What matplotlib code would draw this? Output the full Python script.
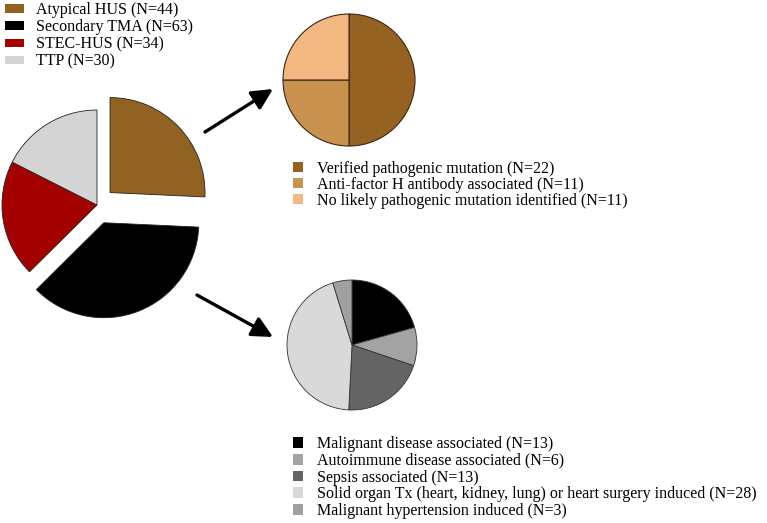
import matplotlib
matplotlib.use("Agg")
import matplotlib.pyplot as plt
from matplotlib.patches import Patch

plt.rcParams['font.family'] = ['Liberation Serif', 'DejaVu Serif']

# ---- data ----
main_labels = ["Atypical HUS (N=44)", "Secondary TMA (N=63)", "STEC-HUS (N=34)", "TTP (N=30)"]
main_values = [44, 63, 34, 30]
main_colors = ["#926222", "#000000", "#a50000", "#d4d4d4"]

ahus_labels = ["Verified pathogenic mutation (N=22)",
               "Anti-factor H antibody associated (N=11)",
               "No likely pathogenic mutation identified (N=11)"]
ahus_values = [22, 11, 11]
ahus_colors = ["#956221", "#c9924f", "#f3b882"]

tma_labels = ["Malignant disease associated (N=13)",
              "Autoimmune disease associated (N=6)",
              "Sepsis associated (N=13)",
              "Solid organ Tx (heart, kidney, lung) or heart surgery induced (N=28)",
              "Malignant hypertension induced (N=3)"]
tma_values = [13, 6, 13, 28, 3]
tma_colors = ["#000000", "#a3a3a3", "#646464", "#d9d9d9", "#a0a0a0"]

W, H = 767, 523
fig = plt.figure(figsize=(W / 100, H / 100), dpi=100)
ax = fig.add_axes([0, 0, 1, 1])

# main pie
ax.pie(main_values, colors=main_colors, startangle=90, counterclock=False,
       center=(97, H - 205), radius=95, explode=[18, 19, 0, 0],
       wedgeprops=dict(edgecolor="#222222", linewidth=0.6))
# aHUS pie
ax.pie(ahus_values, colors=ahus_colors, startangle=90, counterclock=False,
       center=(349, H - 80), radius=66,
       wedgeprops=dict(edgecolor="#3a2510", linewidth=0.8))
# secondary TMA pie
ax.pie(tma_values, colors=tma_colors, startangle=90, counterclock=False,
       center=(352, H - 345), radius=65,
       wedgeprops=dict(edgecolor="#333333", linewidth=0.6))

ax.set_xlim(0, W)
ax.set_ylim(0, H)
ax.set_aspect('auto')
ax.axis('off')

# arrows
arrow_kw = dict(arrowstyle="-|>,head_length=0.9,head_width=0.45", color="black",
                lw=2.4, shrinkA=0, shrinkB=0, mutation_scale=14)
ax.annotate("", xy=(273, H - 89), xytext=(205, H - 132), arrowprops=arrow_kw)
ax.annotate("", xy=(273, H - 337), xytext=(197, H - 295), arrowprops=arrow_kw)

fs = 11.5
leg1 = ax.legend([Patch(facecolor=c) for c in main_colors], main_labels,
                 loc="upper left", bbox_to_anchor=(5 / W, 1 - 2 / H),
                 frameon=False, fontsize=fs, handlelength=1.2, handleheight=0.45,
                 handletextpad=0.75, labelspacing=0.08, borderpad=0, borderaxespad=0)
ax.add_artist(leg1)
leg2 = ax.legend([Patch(facecolor=c) for c in ahus_colors], ahus_labels,
                 loc="upper left", bbox_to_anchor=(293 / W, 1 - 161 / H),
                 frameon=False, fontsize=fs, handlelength=0.6, handleheight=0.6,
                 handletextpad=0.9, labelspacing=0.0, borderpad=0, borderaxespad=0)
ax.add_artist(leg2)
leg3 = ax.legend([Patch(facecolor=c) for c in tma_colors], tma_labels,
                 loc="upper left", bbox_to_anchor=(293 / W, 1 - 436 / H),
                 frameon=False, fontsize=fs, handlelength=0.65, handleheight=0.65,
                 handletextpad=0.85, labelspacing=0.05, borderpad=0, borderaxespad=0)

fig.savefig("out.png", dpi=100)
